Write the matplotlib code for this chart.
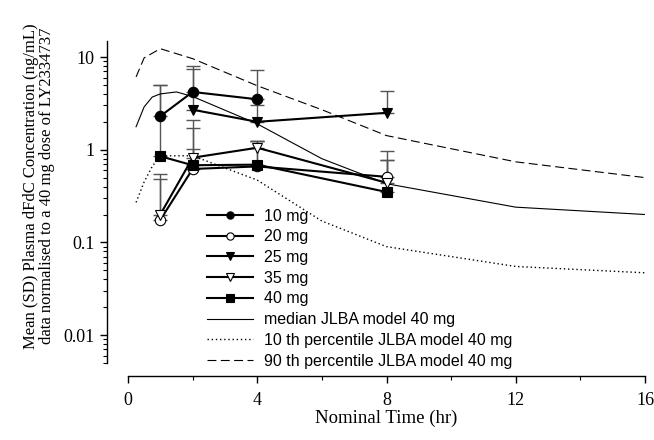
import numpy as np
import matplotlib
matplotlib.use('Agg')
import matplotlib.pyplot as plt
from matplotlib.ticker import FixedLocator, FixedFormatter, LogLocator, NullFormatter, MultipleLocator

# observed means (ng/mL) and upper SD limits
t_10 = [1, 2, 4]
v_10 = [2.3, 4.2, 3.5]
u_10 = [5.0, 8.0, 7.3]

t_20 = [1, 2, 4, 8]
v_20 = [0.175, 0.62, 0.66, 0.51]
u_20 = [0.55, 1.02, 1.25, 0.98]

t_25 = [2, 4, 8]
v_25 = [2.7, 2.0, 2.5]
u_25 = [7.5, 3.0, 4.3]

t_35 = [1, 2, 4, 8]
v_35 = [0.2, 0.82, 1.05, 0.44]
u_35 = [0.48, 2.1, 1.25, 0.78]

t_40 = [1, 2, 4, 8]
v_40 = [0.85, 0.68, 0.69, 0.35]
u_40 = [5.0, 1.73, 1.25, 0.78]

# JLBA model curves (40 mg)
t_med = [0.25, 0.5, 0.75, 1, 1.5, 2, 4, 6, 8, 12, 16]
v_med = [1.77, 2.9, 3.7, 4.0, 4.2, 3.75, 1.9, 0.8, 0.43, 0.24, 0.20]

t_p10 = [0.25, 0.5, 0.75, 1, 2, 4, 6, 8, 12, 16]
v_p10 = [0.27, 0.45, 0.66, 0.86, 0.86, 0.47, 0.17, 0.09, 0.055, 0.047]

t_p90 = [0.25, 0.5, 1, 2, 4, 6, 8, 12, 16]
v_p90 = [6.1, 9.8, 12.3, 9.6, 4.9, 2.7, 1.42, 0.74, 0.50]

serif = 'Liberation Serif'
sans = 'Liberation Sans'
plt.rcParams['font.family'] = [serif, 'DejaVu Serif']

fig = plt.figure(figsize=(6.54, 4.4), dpi=100)
ax = fig.add_axes([128/654, 1 - 363/440, 517/654, (363 - 40.7)/440])

series = [
    ('10 mg', t_10, v_10, u_10, 'o', 'black'),
    ('20 mg', t_20, v_20, u_20, 'o', 'white'),
    ('25 mg', t_25, v_25, u_25, 'v', 'black'),
    ('35 mg', t_35, v_35, u_35, 'v', 'white'),
    ('40 mg', t_40, v_40, u_40, 's', 'black'),
]

handles = []
for label, t, v, u, mk, fc in series:
    v = np.array(v)
    u = np.array(u)
    ax.errorbar(t, v, yerr=[np.zeros_like(v), u - v], fmt='none',
                ecolor='#555555', elinewidth=1.0, capsize=5, capthick=1.0, zorder=2)
    h, = ax.plot(t, v, color='black', lw=1.5, marker=mk, ms=7.5,
                 mfc=fc, mec='black', mew=0.8, zorder=4, label=label)
    handles.append(h)

h, = ax.plot(t_med, v_med, color='black', lw=0.8, zorder=3, label='median JLBA model 40 mg')
handles.append(h)
h, = ax.plot(t_p10, v_p10, color='black', lw=1.0, ls=(0, (1, 2)), zorder=3,
             label='10 th percentile JLBA model 40 mg')
handles.append(h)
h, = ax.plot(t_p90, v_p90, color='black', lw=0.8, ls=(0, (8, 4)), zorder=3,
             label='90 th percentile JLBA model 40 mg')
handles.append(h)

ax.set_yscale('log')
ax.set_ylim(0.005, 15)
ax.set_xlim(0, 16)

for s in ['top', 'right']:
    ax.spines[s].set_visible(False)
ax.spines['left'].set_position(('outward', 15))
ax.spines['bottom'].set_position(('outward', 9))
ax.spines['bottom'].set_bounds(0, 16)
ax.spines['left'].set_linewidth(1.0)
ax.spines['bottom'].set_linewidth(1.0)

ax.yaxis.set_major_locator(FixedLocator([0.01, 0.1, 1, 10]))
ax.yaxis.set_major_formatter(FixedFormatter(['0.01', '0.1', '1', '10']))
ax.yaxis.set_minor_locator(LogLocator(base=10, subs=np.arange(2, 10)))
ax.yaxis.set_minor_formatter(NullFormatter())
ax.xaxis.set_major_locator(MultipleLocator(4))
ax.xaxis.set_minor_locator(MultipleLocator(2))

ax.tick_params(which='major', direction='out', length=5, width=1.0, labelsize=13, pad=4)
ax.tick_params(axis='x', which='major', pad=7)
ax.tick_params(which='minor', direction='out', length=3, width=0.8)

fig.text(39/654, 1 - 186/440,
         'Mean (SD) Plasma dFdC Concentration (ng/mL)\ndata normalised to a 40 mg dose of LY2334737',
         rotation=90, ha='center', va='center', fontsize=12, linespacing=1.0)
fig.text(386/654, 1 - 418/440, 'Nominal Time (hr)', ha='center', va='center', fontsize=13.5)

leg = ax.legend(handles=handles, loc='upper left', bbox_to_anchor=(207/654, 1 - 208.5/440),
                bbox_transform=fig.transFigure, frameon=False, borderpad=0, borderaxespad=0,
                handlelength=2.9, handletextpad=0.7, labelspacing=0.36, markerscale=0.7,
                prop={'family': sans, 'size': 11.5})

fig.savefig('out.png', dpi=100)
